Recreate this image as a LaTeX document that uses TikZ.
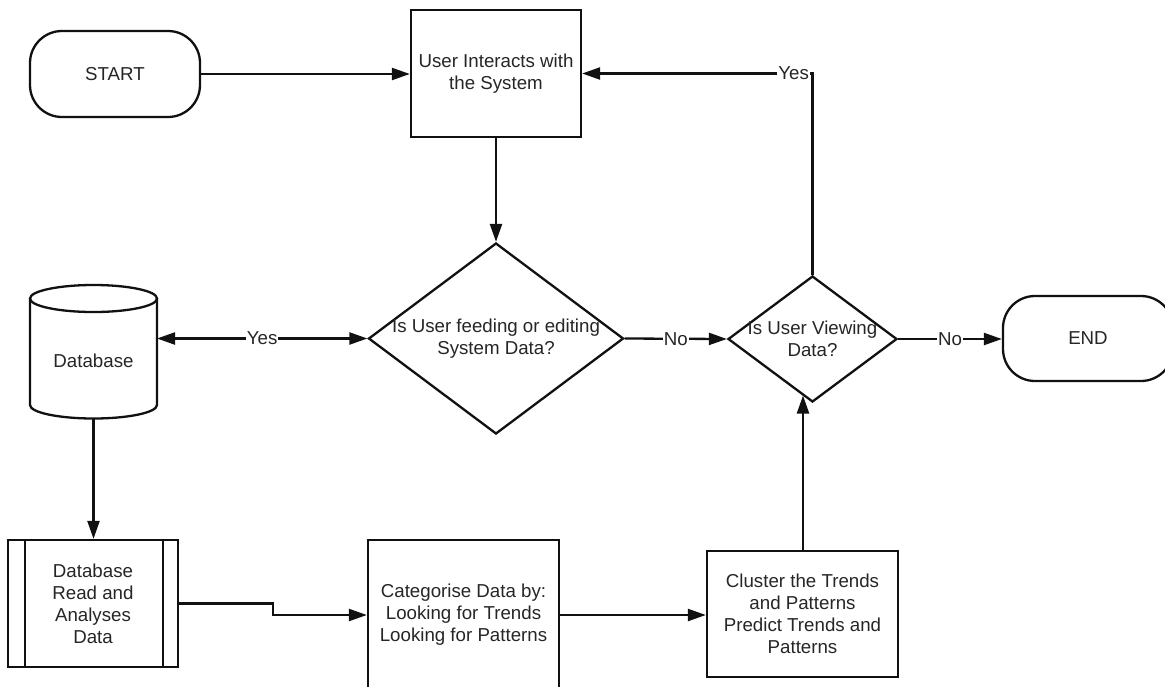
\documentclass[tikz,border=0pt]{standalone}
\usepackage{fontspec}
\setmainfont{Liberation Sans}
\usetikzlibrary{shapes.geometric,arrows.meta}
\definecolor{ink}{HTML}{111111}
\definecolor{txt}{HTML}{262626}
\begin{document}
\begin{tikzpicture}[x=1pt,y=-1pt,
  every node/.style={font=\fontsize{18.7}{22}\selectfont, text=txt},
  line/.style={draw=ink, line width=2.3pt},
  arr/.style={line, -{Triangle[length=18pt,width=12pt]}},
  dblarr/.style={line, {Triangle[length=18pt,width=12pt]}-{Triangle[length=18pt,width=12pt]}},
  terminal/.style={rectangle, rounded corners=32pt, draw=ink, line width=2.3pt,
    minimum width=170pt, minimum height=86pt, inner sep=0pt},
  procbox/.style={rectangle, draw=ink, line width=2.3pt, align=center, inner sep=0pt},
  decision/.style={diamond, draw=ink, line width=2.3pt, inner sep=0pt},
  lbl/.style={fill=white, inner sep=1pt},
]
\useasboundingbox (0,0) rectangle (1165,686);
\fill[white] (0,0) rectangle (1165,686);
\clip (0,0) rectangle (1165,686);

% terminals and process steps
\node[terminal] (start) at (115,74) {START};
\node[procbox, minimum width=170pt, minimum height=127pt] (user) at (496,73.5)
  {User Interacts with\\the System};
\node[decision, minimum width=255pt, minimum height=191pt,
  label={[align=center]center:Is User feeding or editing\\System Data?}] (d1) at (496,338.5) {};
\node[decision, minimum width=169pt, minimum height=126pt,
  label={[align=center]center:Is User Viewing\\Data?}] (d2) at (812.5,339) {};
\node[terminal, minimum height=85pt] (end) at (1088,338.5) {END};

% database cylinder
\draw[line, fill=white] (30,298.5) -- (30,405) arc[start angle=180, end angle=0, x radius=63.5, y radius=13.5]
  -- (157,298.5);
\draw[line] (93.5,298.5) ellipse [x radius=63.5, y radius=13.5];
\node (db) at (93.5,361) {Database};
\coordinate (dbside) at (157,0);
\coordinate (dbbot) at (93.5,418.5);

\node[procbox, minimum width=170pt, minimum height=127pt] (dbr) at (93,603.5)
  {Database\\Read and\\Analyses\\Data};
\draw[line] ([xshift=18pt]dbr.north west) -- ([xshift=18pt]dbr.south west);
\draw[line] ([xshift=-16pt]dbr.north east) -- ([xshift=-16pt]dbr.south east);

\node[procbox, minimum width=191pt, minimum height=150pt] (cat) at (463.5,615)
  {Categorise Data by:\\Looking for Trends\\Looking for Patterns};
\node[procbox, minimum width=191pt, minimum height=126pt] (clu) at (802.5,614)
  {Cluster the Trends\\and Patterns\\Predict Trends and\\Patterns};

% connectors
\draw[arr] (start.east) -- (start.east -| user.west);
\draw[arr] (user.south) -- (d1.north);
\draw[dblarr] (d1.west -| dbside) -- node[lbl]{Yes} (d1.west);
\draw[arr] (d1.east) -- node[lbl]{No} (d2.west);
\draw[arr] (d2.east) -- node[lbl]{No} (d2.east -| end.west);
\draw[arr] (d2.north) |- node[pos=0.5, anchor=east, lbl, xshift=-1.5pt]{Yes} (user.east);
\draw[arr] (dbbot) -- (dbbot |- dbr.north);
\coordinate (bend) at (273,0);
\draw[arr] (dbr.east) -- (dbr.east -| bend) -- (bend |- cat.west) -- (cat.west);
\draw[arr] (cat.east) -- (cat.east -| clu.west);
\coordinate (d2in) at (803,395.5);
\draw[arr] (clu.north -| d2in) -- (d2in);
\end{tikzpicture}
\end{document}
